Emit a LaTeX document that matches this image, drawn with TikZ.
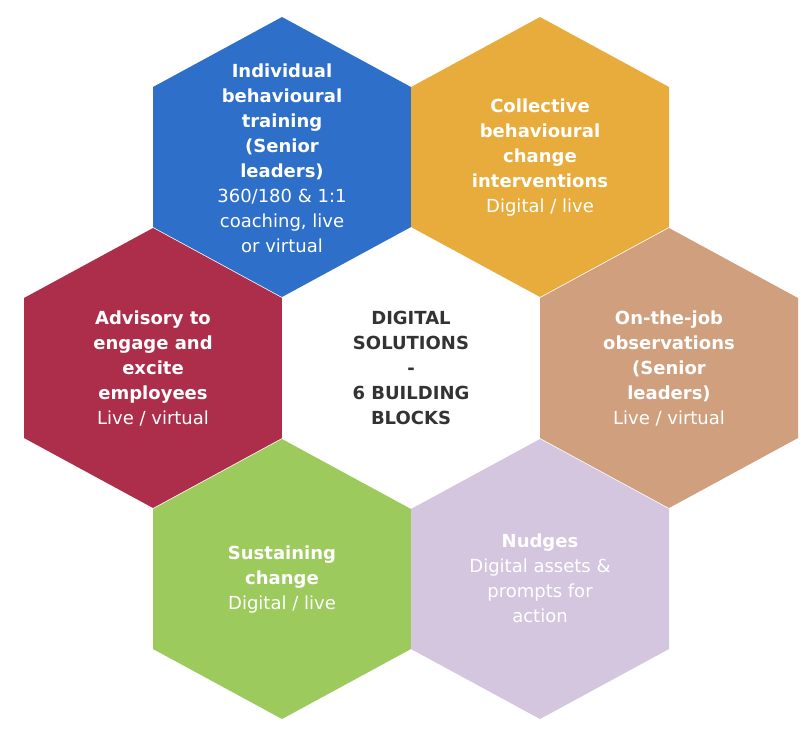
\documentclass[tikz,border=0pt]{standalone}
\usepackage{fontspec}
\setmainfont{DejaVu Sans}
\usetikzlibrary{positioning}
\definecolor{hexblue}{HTML}{2E6FC9}
\definecolor{hexorange}{HTML}{E8AC3C}
\definecolor{hexred}{HTML}{AD2E4A}
\definecolor{hextan}{HTML}{D0A07E}
\definecolor{hexgreen}{HTML}{9DCA5C}
\definecolor{hexlilac}{HTML}{D3C6DE}
\definecolor{hexdark}{HTML}{333333}
\newcommand{\hexcell}[3]{% x, y, colour
  \fill[#3] (#1,#2-140) -- (#1+129,#2-70) -- (#1+129,#2+70) -- (#1,#2+140)
    -- (#1-129,#2+70) -- (#1-129,#2-70) -- cycle;}
\begin{document}
\begin{tikzpicture}[x=1pt,y=-1pt,
	  every node/.style={align=center,text=white,font=\fontsize{18}{25}\selectfont},
	  title/.style={font=\fontsize{18}{25}\selectfont\bfseries}]

	  \useasboundingbox (0,0) rectangle (810,748);

	  % hexagons
	  \hexcell{282}{157}{hexblue}
	  \hexcell{540}{157}{hexorange}
	  \hexcell{153}{368}{hexred}
	  \hexcell{411}{368}{white}
	  \hexcell{669}{368}{hextan}
	  \hexcell{282}{579}{hexgreen}
	  \hexcell{540}{579}{hexlilac}

	  % labels
	  \node (training) at (282,158) {\textbf{Individual}\\\textbf{behavioural}\\\textbf{training}\\\textbf{(Senior}\\\textbf{leaders)}\\360/180 \& 1:1\\coaching, live\\or virtual};
	  \node (collective) at (540,158) {\textbf{Collective}\\\textbf{behavioural}\\\textbf{change}\\\textbf{interventions}\\Digital / live};
	  \node (advisory) at (153,368) {\textbf{Advisory to}\\\textbf{engage and}\\\textbf{excite}\\\textbf{employees}\\Live / virtual};
	  \node[text=hexdark] (centre) at (411,368) {\textbf{DIGITAL}\\\textbf{SOLUTIONS}\\\textbf{-}\\\textbf{6 BUILDING}\\\textbf{BLOCKS}};
	  \node (observe) at (669,368) {\textbf{On-the-job}\\\textbf{observations}\\\textbf{(Senior}\\\textbf{leaders)}\\Live / virtual};
	  \node (sustain) at (282,580) {\textbf{Sustaining}\\\textbf{change}\\Digital / live};
	  \node (nudges) at (540,578) {\textbf{Nudges}\\Digital assets \&\\prompts for\\action};

\end{tikzpicture}
\end{document}
